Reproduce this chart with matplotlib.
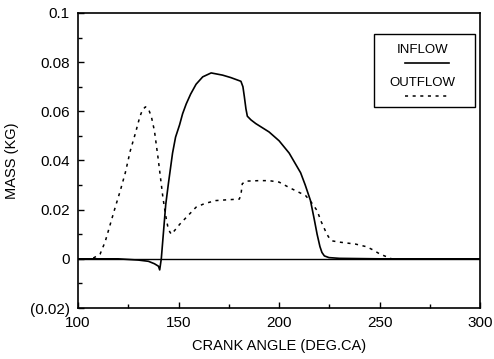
import matplotlib
matplotlib.use("Agg")
import matplotlib.pyplot as plt
from matplotlib.lines import Line2D
from matplotlib.patches import Rectangle
from matplotlib.ticker import MultipleLocator, FixedLocator

plt.rcParams['font.family'] = ['Liberation Sans', 'DejaVu Sans']

# crank angle (deg) vs mass flow (kg)
inflow_angle = [100, 110, 120, 130, 135, 138, 140, 140.6, 141.4, 142.5, 143.6,
                145, 147, 148.5, 150.5, 152, 153.8, 156, 158.7, 162, 166.2,
                171.9, 176, 181, 182, 182.7, 183.5, 184.2, 186, 188.4, 195,
                200, 205, 210.7, 213, 215.6, 217.5, 218.9, 220.3, 221.3,
                222.5, 224.8, 230, 250, 300]
inflow_mass = [0, 0, 0, -0.0005, -0.001, -0.002, -0.003, -0.0045, 0, 0.011,
               0.022, 0.031, 0.043, 0.0495, 0.0545, 0.059, 0.063, 0.067,
               0.071, 0.074, 0.0756, 0.0747, 0.0737, 0.0722, 0.070, 0.066,
               0.061, 0.058, 0.0565, 0.055, 0.0516, 0.048, 0.043, 0.035,
               0.030, 0.0237, 0.016, 0.010, 0.005, 0.0026, 0.0012, 0.0005,
               0.0002, 0, 0]

outflow_angle = [100, 106, 108, 111, 113.5, 116, 118.5, 121, 123.5, 126,
                 128.5, 130.7, 132, 133.5, 135, 136.5, 138, 139.8, 141,
                 142.2, 143.5, 144.7, 145.6, 146.4, 148, 150.5, 154, 158.7,
                 163, 168.6, 174, 180.2, 181, 181.7, 182.7, 183.5, 190, 195,
                 200, 205, 210, 213.2, 216, 218.9, 221, 223, 224.5, 226.4,
                 230, 238, 243.6, 247, 250, 253, 256, 260, 300]
outflow_mass = [0, 0, 0.0005, 0.002, 0.007, 0.014, 0.021, 0.0277, 0.035,
                0.044, 0.051, 0.0577, 0.0605, 0.0618, 0.061, 0.0577, 0.052,
                0.041, 0.033, 0.025, 0.018, 0.0128, 0.011, 0.010, 0.0115,
                0.014, 0.017, 0.021, 0.0225, 0.0237, 0.024, 0.0243, 0.026,
                0.0306, 0.031, 0.0316, 0.0318, 0.0318, 0.0312, 0.029, 0.027,
                0.0257, 0.023, 0.0196, 0.015, 0.0114, 0.009, 0.0073, 0.0068,
                0.006, 0.0049, 0.0035, 0.002, 0.001, 0, 0, 0]

y_ticks = [-0.02, 0, 0.02, 0.04, 0.06, 0.08, 0.1]
y_labels = ["(0.02)", "0", "0.02", "0.04", "0.06", "0.08", "0.1"]
x_ticks = [100, 150, 200, 250, 300]

fig = plt.figure(figsize=(4.94, 3.59), dpi=100)
ax = fig.add_axes([0.158, 0.142, 0.814, 0.822])

ax.axhline(0, color='black', lw=1.0)
ax.plot(inflow_angle, inflow_mass, color='black', lw=1.2)
ax.plot(outflow_angle, outflow_mass, color='black', lw=1.1, linestyle=(0, (2, 3)))

ax.set_xlim(100, 300)
ax.set_ylim(-0.02, 0.1)
ax.xaxis.set_major_locator(FixedLocator(x_ticks))
ax.xaxis.set_minor_locator(MultipleLocator(25))
ax.yaxis.set_major_locator(FixedLocator(y_ticks))
ax.yaxis.set_minor_locator(MultipleLocator(0.01))
ax.set_yticklabels(y_labels)
ax.tick_params(which='both', direction='in', top=False, right=False,
               labelsize=11, width=1)
ax.tick_params(which='major', length=4, pad=6)
ax.tick_params(which='minor', length=3)
for s in ax.spines.values():
    s.set_linewidth(1.2)

ax.set_xlabel("CRANK ANGLE (DEG.CA)", fontsize=10.5, labelpad=6)
ax.set_ylabel("MASS (KG)", fontsize=10.5, labelpad=8)

# legend box: label above line sample
ax.add_patch(Rectangle((0.735, 0.681), 0.253, 0.248, transform=ax.transAxes,
                       fill=False, lw=1.0, color='black'))
ax.text(0.857, 0.875, "INFLOW", transform=ax.transAxes, ha='center',
        va='center', fontsize=9.5)
ax.add_line(Line2D([0.812, 0.922], [0.831, 0.831], transform=ax.transAxes,
                   color='black', lw=1.2))
ax.text(0.857, 0.763, "OUTFLOW", transform=ax.transAxes, ha='center',
        va='center', fontsize=9.5)
ax.add_line(Line2D([0.812, 0.922], [0.719, 0.719], transform=ax.transAxes,
                   color='black', lw=1.1, linestyle=(0, (2, 3))))

fig.savefig("out.png", dpi=100)
